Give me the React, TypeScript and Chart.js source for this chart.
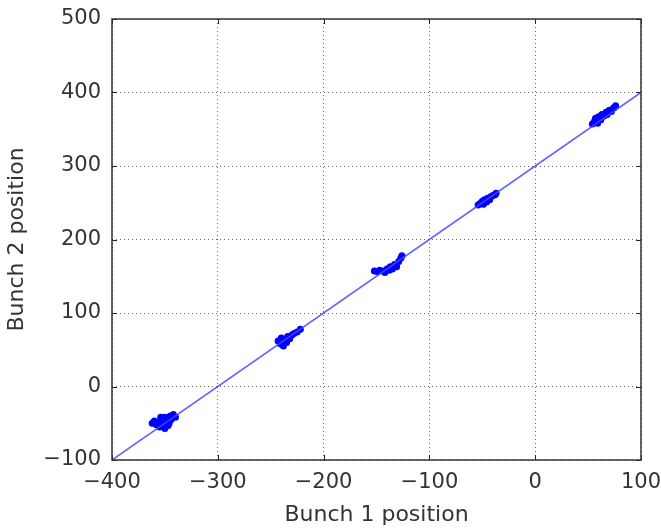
import React, { useEffect, useRef } from "react";
import { Chart, registerables } from "chart.js";

Chart.register(...registerables);

const bunch1: number[] = [
  -362, -360, -358, -356, -355, -353, -352, -350, -350, -348, -347, -345, -344, -342, -340, -346, -354,
  -243, -241, -240, -238, -237, -235, -234, -232, -230, -228, -225, -222,
  -152, -149, -147, -144, -142, -140, -138, -137, -135, -133, -131, -129, -127, -126,
  -54, -52, -50, -49, -48, -46, -45, -43, -42, -40, -38, -37,
  54, 56, 57, 59, 60, 62, 63, 65, 67, 68, 70, 72, 74, 76,
];
const bunch2: number[] = [
  -50, -47, -52, -49, -55, -45, -51, -57, -42, -47, -53, -40, -45, -38, -42, -50, -42,
  62, 58, 66, 55, 63, 60, 68, 65, 70, 72, 74, 78,
  157, 156, 158, 157, 155, 160, 158, 163, 160, 166, 163, 170, 175, 178,
  247, 249, 252, 248, 254, 251, 256, 254, 258, 260, 261, 263,
  357, 361, 365, 358, 367, 363, 370, 368, 373, 370, 376, 374, 379, 382,
];
const fitX: number[] = [-400, 100];
const fitY: number[] = [-100, 400];
const xTicks: number[] = [-400, -300, -200, -100, 0, 100];
const yTicks: number[] = [-100, 0, 100, 200, 300, 400, 500];

const FONT = "'DejaVu Sans', sans-serif";

const innerTicks = {
  id: "innerTicks",
  afterDatasetsDraw(chart: any) {
    const { ctx, chartArea, scales } = chart;
    ctx.save();
    ctx.strokeStyle = "#222";
    ctx.lineWidth = 1;
    const L = 5;
    for (const v of xTicks) {
      const px = Math.round(scales.x.getPixelForValue(v)) + 0.5;
      ctx.beginPath();
      ctx.moveTo(px, chartArea.bottom);
      ctx.lineTo(px, chartArea.bottom - L);
      ctx.moveTo(px, chartArea.top);
      ctx.lineTo(px, chartArea.top + L);
      ctx.stroke();
    }
    for (const v of yTicks) {
      const py = Math.round(scales.y.getPixelForValue(v)) + 0.5;
      ctx.beginPath();
      ctx.moveTo(chartArea.left, py);
      ctx.lineTo(chartArea.left + L, py);
      ctx.moveTo(chartArea.right, py);
      ctx.lineTo(chartArea.right - L, py);
      ctx.stroke();
    }
    ctx.lineWidth = 1.5;
    ctx.strokeStyle = "#333";
    ctx.strokeRect(chartArea.left, chartArea.top, chartArea.right - chartArea.left, chartArea.bottom - chartArea.top);
    ctx.restore();
  },
};

export default function App() {
  const ref = useRef<HTMLCanvasElement | null>(null);
  useEffect(() => {
    if (!ref.current) return;
    const pts = bunch1.map((x, i) => ({ x, y: bunch2[i] }));
    const line = fitX.map((x, i) => ({ x, y: fitY[i] }));
    const fmt = (v: any) => String(v).replace("-", "\u2212");
    const chart = new Chart(ref.current, {
      type: "scatter",
      data: {
        datasets: [
          {
            type: "line",
            data: line,
            borderColor: "rgba(70,70,255,0.85)",
            borderWidth: 1.6,
            pointRadius: 0,
            fill: false,
          } as any,
          {
            data: pts,
            backgroundColor: "#0000ff",
            borderColor: "#0000ff",
            pointRadius: 3.5,
            borderWidth: 0,
          },
        ],
      },
      plugins: [innerTicks],
      options: {
        animation: false,
        responsive: false,
        maintainAspectRatio: false,
        layout: { padding: { top: 19, right: 20, left: 0, bottom: 0 } },
        plugins: { legend: { display: false }, tooltip: { enabled: false } },
        scales: {
          x: {
            type: "linear",
            min: -400,
            max: 100,
            afterBuildTicks: (s: any) => { s.ticks = xTicks.map((v) => ({ value: v })); },
            afterFit: (s: any) => { s.height = 68; s.paddingLeft = 0; s.paddingRight = 0; },
            ticks: { color: "#333", font: { family: FONT, size: 21 }, padding: 10, callback: fmt, maxRotation: 0 },
            grid: { color: "rgba(0,0,0,0.6)", lineWidth: 1, drawTicks: false, tickLength: 0 },
            border: { display: false, dash: [1, 3] } as any,
            title: { display: true, text: "Bunch 1 position", color: "#333", font: { family: FONT, size: 22 }, padding: { top: 0, bottom: 0 } },
          },
          y: {
            type: "linear",
            min: -100,
            max: 500,
            afterBuildTicks: (s: any) => { s.ticks = yTicks.map((v) => ({ value: v })); },
            afterFit: (s: any) => { s.width = 112; s.paddingTop = 0; s.paddingBottom = 0; },
            ticks: { color: "#333", font: { family: FONT, size: 21 }, padding: 11, callback: fmt },
            grid: { color: "rgba(0,0,0,0.6)", lineWidth: 1, drawTicks: false, tickLength: 0 },
            border: { display: false, dash: [1, 3] } as any,
            title: { display: true, text: "Bunch 2 position", color: "#333", font: { family: FONT, size: 22 }, padding: { top: 4, bottom: 0 } },
          },
        },
      } as any,
    });
    return () => chart.destroy();
  }, []);
  return (
    <div style={{ position: "fixed", left: 0, top: 0, width: 661, height: 528, background: "#fff" }}>
      <canvas ref={ref} width={661} height={528} style={{ width: 661, height: 528 }} />
    </div>
  );
}
